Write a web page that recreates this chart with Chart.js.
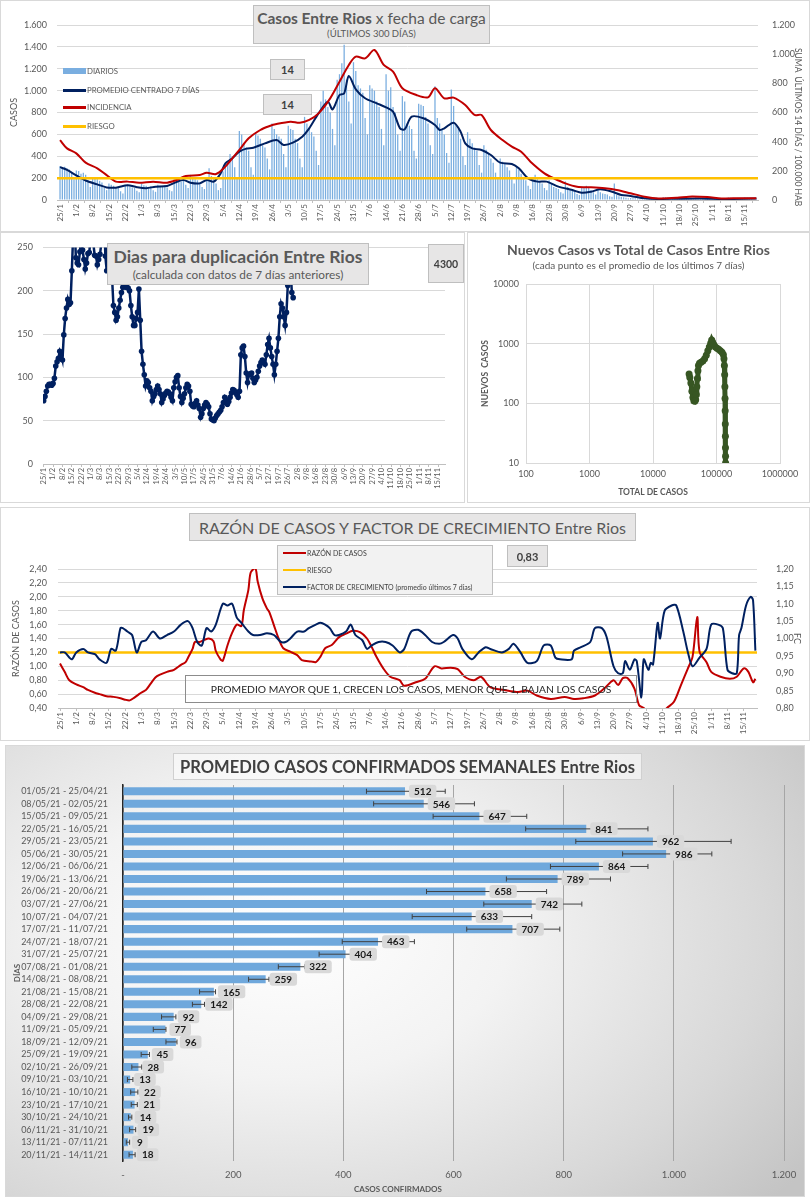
<!DOCTYPE html>
<html lang="es">
<head>
<meta charset="UTF-8">
<title>Casos Entre Rios</title>
<script src="https://cdn.jsdelivr.net/npm/chart.js"></script>
<style>
  body { margin: 0; background: #fff; font-family: Lato, sans-serif; }
  .panel { position: absolute; outline: 1px solid #d9d9d9; outline-offset: -1px; background: #fff; }
  .panel canvas { position: absolute; left: 0; top: 0; }
  .caja { position: absolute; box-sizing: border-box; background: #e7e6e6; border: 1px solid #bfbfbf; white-space: nowrap;
          color: #595959; text-align: center; display: flex; flex-direction: column; justify-content: center; }
  .lg { position: absolute; font-size: 7.8px; color: #595959; display: flex; align-items: center; white-space: nowrap; }
  .lg i { display: inline-block; width: 23px; margin-right: 1px; }
  .txt { position: absolute; color: #595959; white-space: nowrap; }
</style>
</head>
<body>

<div class="panel" style="left:0;top:0;width:810px;height:232px"><canvas id="c1" width="810" height="232"></canvas></div>
<div class="panel" style="left:0;top:232px;width:465px;height:271px"><canvas id="c2" width="465" height="271"></canvas></div>
<div class="panel" style="left:467px;top:232px;width:343px;height:271px"><canvas id="c3" width="343" height="271"></canvas></div>
<div class="panel" style="left:0;top:507px;width:810px;height:234px"><canvas id="c4" width="810" height="234"></canvas></div>
<div class="panel" style="left:5px;top:745px;width:800px;height:452px;background:radial-gradient(ellipse 80% 90% at 35% 42%, #ffffff 0%, #f3f3f3 35%, #d8d8d8 75%, #c4c4c4 100%)"><canvas id="c5" width="800" height="452"></canvas></div>

<!-- casos diarios -->
<div class="caja" style="left:253px;top:5px;width:237px;height:39px">
  <div style="font-size:15.5px;line-height:18px"><b>Casos Entre Rios</b> x fecha de carga</div>
  <div style="font-size:9.5px;line-height:13px">(ÚLTIMOS 300 DÍAS)</div>
</div>
<div class="caja" style="left:270px;top:59px;width:35px;height:21px;font-size:11px;font-weight:bold;color:#404040">14</div>
<div class="caja" style="left:263px;top:94px;width:49px;height:21px;font-size:11px;font-weight:bold;color:#404040">14</div>
<div class="lg" style="left:63px;top:66px;height:10px"><i style="height:6px;background:#7aaee0"></i>DIARIOS</div>
<div class="lg" style="left:63px;top:85px;height:10px"><i style="height:3px;background:#002060"></i>PROMEDIO CENTRADO 7 DÍAS</div>
<div class="lg" style="left:63px;top:102px;height:10px"><i style="height:3px;background:#c00000"></i>INCIDENCIA</div>
<div class="lg" style="left:63px;top:121px;height:10px"><i style="height:3px;background:#ffc000"></i>RIESGO</div>
<div class="txt" style="left:793px;top:48px;font-size:8.5px;line-height:10px;writing-mode:vertical-rl">SUMA&nbsp; ÚLTIMOS 14 DÍAS / 100.000 HAB</div>

<!-- duplicacion -->
<div class="caja" style="left:107px;top:243px;width:262px;height:42px">
  <div style="font-size:17.5px;font-weight:bold;line-height:20px">Dias para duplicación Entre Rios</div>
  <div style="font-size:11.8px;line-height:15px">(calculada con datos de 7 días anteriores)</div>
</div>
<div class="caja" style="left:428px;top:244px;width:36px;height:39px;font-size:10.5px;font-weight:bold;color:#404040">4300</div>

<!-- nuevos vs total -->
<div class="txt" style="left:467px;width:343px;top:241px;text-align:center;font-size:14px;font-weight:bold">Nuevos Casos vs Total de Casos Entre Rios</div>
<div class="txt" style="left:467px;width:343px;top:259px;text-align:center;font-size:10px">(cada punto es el promedio de los últimos 7 días)</div>

<!-- razon de casos -->
<div class="caja" style="left:189px;top:513px;width:447px;height:28px;font-size:16px">RAZÓN DE CASOS Y FACTOR DE CRECIMIENTO Entre Rios</div>
<div class="caja" style="left:277px;top:545px;width:216px;height:50px;background:#f2f2f2"></div>
<div class="lg" style="left:283px;top:548px;height:10px;font-size:7px;color:#404040"><i style="height:2.5px;background:#c00000"></i>RAZÓN DE CASOS</div>
<div class="lg" style="left:283px;top:565px;height:10px;font-size:7px;color:#404040"><i style="height:2.5px;background:#ffc000"></i>RIESGO</div>
<div class="lg" style="left:283px;top:582px;height:10px;font-size:7px;color:#404040"><i style="height:2.5px;background:#002060"></i>FACTOR DE CRECIMIENTO (promedio últimos 7 días)</div>
<div class="caja" style="left:507px;top:545px;width:41px;height:22px;font-size:11px;font-weight:bold;color:#404040">0,83</div>
<div class="caja" style="left:185px;top:675px;width:452px;height:28px;background:transparent;border-color:#8c8c8c;font-size:10.3px;color:#262626">PROMEDIO MAYOR QUE 1, CRECEN LOS CASOS, MENOR QUE 1, BAJAN LOS CASOS</div>

<!-- promedio semanal -->
<div class="caja" style="left:173px;top:753px;width:469px;height:27px;background:rgba(255,255,255,0.55);border-color:#d0d0d0;font-size:16.5px;font-weight:bold;color:#404040">PROMEDIO CASOS CONFIRMADOS SEMANALES Entre Rios</div>
<div class="txt" style="left:298px;width:200px;top:1184px;text-align:center;font-size:8px;font-weight:bold">CASOS CONFIRMADOS</div>

<script>
// etiquetas semanales del eje de fechas (día 0 = 25/1)
const fechas = ['25/1','1/2','8/2','15/2','22/2','1/3','8/3','15/3','22/3','29/3','5/4','12/4','19/4','26/4',
  '3/5','10/5','17/5','24/5','31/5','7/6','14/6','21/6','28/6','5/7','12/7','19/7','26/7','2/8','9/8','16/8',
  '23/8','30/8','6/9','13/9','20/9','27/9','4/10','11/10','18/10','25/10','1/11','8/11','15/11'];

// casos diarios, una fila por semana
const diarios = [
  310,300,305,290,280,250,190, 270,265,240,250,230,180,120, 210,200,190,175,160,110,90,
  150,140,130,120,110,80,60, 130,140,125,115,110,85,70, 150,135,130,120,125,90,75,
  140,130,125,135,115,90,80, 190,200,185,170,175,140,110, 230,200,190,180,160,120,100,
  210,290,220,200,150,90,110, 260,300,340,420,400,300,200, 630,600,520,480,450,300,230,
  620,590,560,500,480,380,280, 700,650,600,580,560,420,300, 680,650,640,560,520,380,300,
  760,700,660,620,580,450,320, 900,1000,920,850,800,650,500, 1100,1150,1250,1420,1100,900,700,
  1260,1180,1050,1020,980,750,600, 1050,1020,1000,900,850,650,500, 1150,1000,1030,850,800,600,450,
  950,900,700,680,650,450,380, 880,870,860,760,700,500,420, 1040,750,700,650,600,430,340,
  1010,860,690,650,560,400,320, 620,560,520,480,450,320,250, 500,460,420,380,340,250,200,
  380,350,330,300,270,190,150, 300,280,240,200,180,130,100, 200,230,190,170,150,110,90,
  180,150,120,110,100,70,60, 170,120,95,85,80,55,45, 110,120,130,110,90,70,50,
  100,70,60,55,50,35,30, 150,45,35,30,25,20,15, 18,16,15,14,12,10,8,
  25,22,20,22,20,15,12, 25,24,22,20,20,15,12, 18,16,15,14,13,10,8,
  25,22,20,20,18,14,12, 12,12,10,10,9,7,6, 22,20,20,18,18,13,10,
  24,20,18,16,15,12];

// promedio centrado 7 días (eje izquierdo)
const promDia = [0,3,7,11,16,20,24,29,33,37,41,46,50,53,56,60,63,66,69,71,74,77,80,83,88,93,96,100,104,107,
  111,115,117,120,122,124,127,131,136,140,143,146,148,151,156,161,163,165,169,172,174,177,181,185,189,194,197,
  201,205,209,214,220,224,228,232,237,241,245,251,257,265,275,285,299];
const promVal = [300,275,225,178,143,115,113,135,117,108,122,128,165,183,158,152,183,168,244,335,381,442,470,478,
  518,549,503,524,579,655,792,899,829,960,975,1134,1012,930,884,847,808,655,646,762,747,686,640,655,707,625,
  518,472,457,411,341,329,290,198,168,168,122,91,67,76,98,76,46,37,15,9,12,14,10,14];

// incidencia 14 días / 100.000 hab (eje derecho)
const incDia = [0,3,7,11,16,20,24,29,34,40,46,50,54,60,63,67,71,74,77,81,86,90,93,99,103,107,111,116,120,124,
  127,131,135,139,143,147,153,158,161,165,169,174,178,181,185,190,194,198,202,208,212,217,222,228,234,239,245,
  251,257,265,270,278,284,292,299];
const incVal = [411,354,320,256,217,171,126,126,119,126,119,137,165,171,187,178,229,286,343,423,480,507,521,537,
  530,549,594,697,811,926,983,971,1029,926,880,766,720,704,766,697,702,651,583,583,480,411,366,331,263,183,
  149,114,91,87,80,69,46,23,11,15,23,20,11,12,12];
const riesgoIncidencia = 150;

// días para duplicación, un valor por día desde el 25/1
const dupVal = [
  73,78,84,90,92,92,91,93,99,113, 118,122,130,126,120,149,168,180,190,184,
  186,223,265,280,238,232,230,245,262,247, 236,225,232,243,244,262,275,255,241,240,
  230,236,242,255,270,290,240,223,260,280, 260,215,183,175,166,170,180,189,198,204,
  205,204,204,203,200,183,170,160,160,168, 175,202,166,130,115,103,90,96,94,88,
  84,73,78,81,86,90,86,81,71,75, 79,82,84,83,81,77,73,88,95,100,
  102,88,78,71,76,81,88,92,90,84, 69,67,66,70,73,68,64,54,58,64,
  68,71,69,66,58,52,51,50,53,56, 58,60,62,66,71,77,74,69,72,77,
  82,86,85,83,80,77,84,126,134,136, 124,105,94,103,104,105,99,94,97,100,
  107,113,117,120,118,115,126,138,145,134, 124,115,103,115,130,145,170,185,180,170,
  160,175,206,260,230,198,192];

// nuevos casos vs total
const totalCasos = [37000,38000,39500,41000,42500,44000,45500,47000,48000,49000,50000,51000,52000,54000,57000,
  61000,65000,69000,73000,77000,81000,84000,87000,91000,96000,102000,108000,115000,122000,128000,131000,133000,
  134500,135500,136300,137000,137600,138100,138500,138900,139200];
const nuevosCasos = [310,270,220,160,125,110,108,115,140,190,260,350,430,470,490,510,560,640,760,880,1020,1150,
  1060,960,880,840,810,760,720,660,560,430,300,190,120,75,45,28,18,13,10];
const ejeTotal = [100,1000,10000,100000,1000000];
const ejeNuevos = [10,100,1000,10000];

// razón de casos (eje izquierdo)
const razDia = [0,2,4,7,10,12,15,17,20,23,26,28,30,32,34,36,37,39,41,43,46,49,52,54,55,57,58,60,62,64,66,67,69,70,
  72,74,76,78,79,81,82,84,85,87,89,90,92,94,96,99,102,104,108,110,112,114,117,120,123,126,129,132,134,136,139,142,
  146,148,153,157,161,164,168,171,174,178,181,185,191,197,201,205,211,217,221,225,230,234,238,240,242,244,247,249,
  251,253,256,259,261,264,267,270,272,274,275,278,280,284,288,291,294,296,298,299];
const razVal = [1.04,0.92,0.80,0.74,0.70,0.66,0.62,0.60,0.57,0.56,0.54,0.52,0.51,0.55,0.60,0.64,0.66,0.75,0.84,0.88,
  0.92,0.95,1.02,1.06,1.12,1.25,1.35,1.35,1.38,1.40,1.36,1.22,1.10,1.08,1.30,1.48,1.60,1.58,1.80,2.10,2.35,2.41,2.22,
  1.98,1.83,1.78,1.59,1.40,1.26,1.21,1.16,1.09,1.07,1.06,1.14,1.26,1.31,1.42,1.47,1.51,1.49,1.40,1.28,1.14,0.97,0.85,
  0.80,0.72,0.77,0.82,1.00,0.97,0.98,0.96,0.85,0.80,0.85,0.70,0.66,0.63,0.65,0.58,0.53,0.56,0.53,0.54,0.58,0.68,0.80,
  0.73,0.83,0.83,0.68,0.44,0.40,0.32,0.30,0.34,0.40,0.49,0.73,0.97,1.14,1.71,1.21,1.06,0.92,0.85,0.82,0.85,0.97,0.92,
  0.77,0.82];
const riesgoRazon = 1.2;

// factor de crecimiento (eje derecho)
const fcDia = [0,2,5,7,10,12,15,17,20,22,24,26,27,29,31,33,35,37,40,43,46,49,52,55,57,59,61,63,65,67,70,72,74,76,78,
  81,83,86,89,92,95,97,99,102,105,107,110,112,114,116,118,120,123,125,127,130,132,134,137,140,143,146,148,151,154,
  157,160,163,165,169,171,173,177,180,183,185,190,193,195,198,201,205,208,211,213,215,220,221,224,228,230,233,235,
  238,240,242,243,245,247,248,250,251,253,254,255,257,258,260,263,265,268,270,272,275,278,280,283,285,287,289,291,
  292,293,295,297,298,299];
const fcVal = [0.96,0.96,0.94,0.96,0.97,0.96,0.955,0.94,0.93,0.97,0.965,1.03,1.03,1.02,1.01,0.96,0.99,0.995,1.02,1.00,
  1.01,1.02,1.04,1.05,1.03,0.99,0.98,1.03,1.02,1.04,1.10,1.095,1.10,1.06,1.045,1.02,1.01,1.01,1.015,1.01,0.99,0.99,
  1.00,1.02,1.02,1.03,1.04,1.045,1.04,1.03,1.01,1.01,1.02,1.04,1.01,0.995,0.97,0.98,0.99,0.99,0.98,0.96,0.97,1.02,
  1.025,1.01,0.99,0.985,0.99,1.01,1.00,0.97,0.94,0.96,0.975,0.97,0.96,0.97,0.985,0.96,0.93,0.935,0.98,0.98,0.945,
  0.94,0.94,0.965,0.975,0.99,1.03,1.03,1.005,0.92,0.90,0.90,0.935,0.91,0.94,0.935,0.83,0.94,0.91,0.93,0.925,1.045,
  1.00,1.08,1.095,1.095,1.02,0.96,0.92,0.945,0.97,1.04,1.04,1.03,0.91,0.90,0.90,1.01,1.03,1.095,1.12,1.11,0.965];

// promedio semanal con su rango
const semanas = ['01/05/21 - 25/04/21','08/05/21 - 02/05/21','15/05/21 - 09/05/21','22/05/21 - 16/05/21',
  '29/05/21 - 23/05/21','05/06/21 - 30/05/21','12/06/21 - 06/06/21','19/06/21 - 13/06/21','26/06/21 - 20/06/21',
  '03/07/21 - 27/06/21','10/07/21 - 04/07/21','17/07/21 - 11/07/21','24/07/21 - 18/07/21','31/07/21 - 25/07/21',
  '07/08/21 - 01/08/21','14/08/21 - 08/08/21','21/08/21 - 15/08/21','28/08/21 - 22/08/21','04/09/21 - 29/08/21',
  '11/09/21 - 05/09/21','18/09/21 - 12/09/21','25/09/21 - 19/09/21','02/10/21 - 26/09/21','09/10/21 - 03/10/21',
  '16/10/21 - 10/10/21','23/10/21 - 17/10/21','30/10/21 - 24/10/21','06/11/21 - 31/10/21','13/11/21 - 07/11/21',
  '20/11/21 - 14/11/21'];
const promedios = [512,546,647,841,962,986,864,789,658,742,633,707,463,404,322,259,165,142,92,77,96,45,28,13,22,21,14,19,9,18];
const errMin = [442,455,563,731,822,907,776,696,551,655,525,624,398,356,282,228,139,126,70,55,78,33,16,8,14,15,10,12,6,11];
const errMax = [585,638,733,953,1104,1069,953,885,769,833,742,793,529,415,330,265,168,148,96,78,98,48,34,18,27,26,16,23,12,22];

Chart.defaults.font.family = 'Lato, sans-serif';
Chart.defaults.color = '#595959';
Chart.defaults.animation = false;
Chart.defaults.responsive = false;
Chart.defaults.plugins.legend.display = false;
Chart.defaults.plugins.tooltip.enabled = false;

const miles = v => String(v).replace(/\B(?=(\d{3})+(?!\d))/g, '.');
const coma = v => v.toFixed(2).replace('.', ',');
const ancho = w => s => { s.width = w; };
const alto = h => s => { s.height = h; };
const xy = (xs, ys) => xs.map((x, i) => ({ x, y: ys[i] }));
const semanas7 = s => { s.ticks = fechas.map((f, i) => ({ value: i * 7 })); };
const etiquetaSemana = v => fechas[Math.round(v / 7)];
const ejeFechas = (min, max, h, size) => ({
  type: 'linear', min, max, offset: false, afterBuildTicks: semanas7, afterFit: alto(h),
  grid: { drawOnChartArea: false, color: '#bfbfbf', tickLength: 3 }, border: { color: '#bfbfbf' },
  ticks: { autoSkip: false, minRotation: 90, maxRotation: 90, padding: 1, font: { size }, callback: etiquetaSemana }
});

// casos diarios
new Chart('c1', {
  type: 'bar',
  data: { datasets: [
    { type: 'line', data: [{ x: -1.3, y: riesgoIncidencia }, { x: 299.7, y: riesgoIncidencia }], yAxisID: 'y2',
      borderColor: '#ffc000', borderWidth: 2.5, pointRadius: 0, order: 1 },
    { type: 'line', data: xy(incDia, incVal), yAxisID: 'y2', borderColor: '#c00000', borderWidth: 2,
      pointRadius: 0, tension: 0.3, order: 2 },
    { type: 'line', data: xy(promDia, promVal), yAxisID: 'y', borderColor: '#002060', borderWidth: 2,
      pointRadius: 0, tension: 0.3, order: 3 },
    { type: 'bar', data: diarios.map((v, i) => ({ x: i, y: v })), yAxisID: 'y', backgroundColor: '#7aaee0',
      barPercentage: 0.55, categoryPercentage: 1, order: 4 }
  ] },
  options: {
    layout: { padding: { top: 25 } },
    scales: {
      x: ejeFechas(-1.3, 299.7, 32, 8),
      y: { position: 'left', min: 0, max: 1600, afterFit: ancho(57), border: { display: false },
           grid: { color: '#d9d9d9', drawTicks: false }, ticks: { stepSize: 200, padding: 10, font: { size: 9 }, callback: miles },
           title: { display: true, text: 'CASOS', font: { size: 9 }, padding: { top: 9, bottom: 0 } } },
      y2: { position: 'right', min: 0, max: 1200, afterFit: ancho(52), border: { display: false }, grid: { display: false },
            ticks: { stepSize: 200, padding: 6, font: { size: 9 }, callback: miles } }
    }
  }
});

// días para duplicación
new Chart('c2', {
  type: 'line',
  data: { datasets: [{ data: dupVal.map((v, i) => ({ x: i, y: v })), borderColor: '#002060', backgroundColor: '#002060',
    borderWidth: 2.5, pointRadius: 2.8, pointBorderWidth: 0 }] },
  options: {
    layout: { padding: { top: 12, right: 20 } },
    scales: {
      x: ejeFechas(-0.5, 299.2, 39, 7.5),
      y: { min: 0, max: 250, afterFit: ancho(43), border: { display: false }, grid: { color: '#d9d9d9', drawTicks: false },
           ticks: { stepSize: 50, padding: 10, font: { size: 9 } } }
    }
  }
});

// nuevos casos vs total de casos
new Chart('c3', {
  type: 'scatter',
  data: { datasets: [{ data: xy(totalCasos, nuevosCasos), showLine: true, borderColor: '#375623', backgroundColor: '#375623',
    borderWidth: 5, pointRadius: 3.5, pointBorderWidth: 0 }] },
  options: {
    layout: { padding: { top: 52, right: 30 } },
    scales: {
      x: { type: 'logarithmic', min: 100, max: 1000000, afterFit: alto(40),
           afterBuildTicks: s => { s.ticks = ejeTotal.map(value => ({ value })); },
           grid: { color: '#d9d9d9', drawTicks: false }, border: { color: '#d9d9d9' },
           ticks: { padding: 6, font: { size: 9 }, callback: v => String(v) },
           title: { display: true, text: 'TOTAL DE CASOS', font: { size: 8.5, weight: 'bold' }, padding: { top: 0, bottom: 6 } } },
      y: { type: 'logarithmic', min: 10, max: 10000, afterFit: ancho(59),
           afterBuildTicks: s => { s.ticks = ejeNuevos.map(value => ({ value })); },
           grid: { color: '#d9d9d9', drawTicks: false }, border: { color: '#d9d9d9' },
           ticks: { padding: 7, font: { size: 9 }, callback: v => String(v) },
           title: { display: true, text: 'NUEVOS  CASOS', font: { size: 8.5, weight: 'bold' }, padding: { top: 13, bottom: 0 } } }
    }
  }
});

// razón de casos y factor de crecimiento
new Chart('c4', {
  type: 'line',
  data: { datasets: [
    { data: [{ x: -0.86, y: riesgoRazon }, { x: 299.7, y: riesgoRazon }], yAxisID: 'y', borderColor: '#ffc000',
      borderWidth: 2.5, pointRadius: 0, order: 3 },
    { data: xy(razDia, razVal), yAxisID: 'y', borderColor: '#c00000', borderWidth: 2, pointRadius: 0, tension: 0.3, order: 2 },
    { data: xy(fcDia, fcVal), yAxisID: 'y2', borderColor: '#002060', borderWidth: 2, pointRadius: 0, tension: 0.3, order: 1 }
  ] },
  options: {
    layout: { padding: { top: 62 } },
    scales: {
      x: ejeFechas(-0.86, 299.7, 33, 8),
      y: { position: 'left', min: 0.4, max: 2.4, afterFit: ancho(58), border: { display: false },
           grid: { color: '#d9d9d9', drawTicks: false }, ticks: { stepSize: 0.2, padding: 11, font: { size: 9 }, callback: coma },
           title: { display: true, text: 'RAZÓN DE CASOS', font: { size: 9 }, padding: { top: 11, bottom: 0 } } },
      y2: { position: 'right', min: 0.8, max: 1.2, afterFit: ancho(53), border: { display: false }, grid: { display: false },
            ticks: { stepSize: 0.05, padding: 11, font: { size: 9 }, callback: coma },
            title: { display: true, text: 'FC', font: { size: 9 }, padding: { top: 8, bottom: 0 } } }
    }
  }
});

// barras de error y etiquetas de valor
const extrasBarras = {
  id: 'extrasBarras',
  afterDatasetsDraw(chart) {
    const { ctx, scales: { x } } = chart;
    const barras = chart.getDatasetMeta(0).data;
    ctx.save();
    ctx.strokeStyle = '#404040';
    ctx.lineWidth = 1;
    barras.forEach((b, i) => {
      const x1 = x.getPixelForValue(errMin[i]), x2 = x.getPixelForValue(errMax[i]);
      ctx.beginPath();
      ctx.moveTo(x1, b.y); ctx.lineTo(x2, b.y);
      ctx.moveTo(x1, b.y - 2.5); ctx.lineTo(x1, b.y + 2.5);
      ctx.moveTo(x2, b.y - 2.5); ctx.lineTo(x2, b.y + 2.5);
      ctx.stroke();
    });
    ctx.font = 'bold 10px Lato, sans-serif';
    ctx.textAlign = 'center';
    ctx.textBaseline = 'middle';
    barras.forEach((b, i) => {
      const t = String(promedios[i]);
      const w = ctx.measureText(t).width + 10;
      const bx = b.x + 4;
      ctx.fillStyle = '#d9d9d9';
      ctx.beginPath();
      ctx.roundRect(bx, b.y - 6.5, w, 13, 3);
      ctx.fill();
      ctx.fillStyle = '#1a1a1a';
      ctx.fillText(t, bx + w / 2, b.y + 0.5);
    });
    ctx.restore();
  }
};

// promedio semanal
new Chart('c5', {
  type: 'bar',
  data: { labels: semanas, datasets: [{ data: promedios, backgroundColor: '#6fa8dc', barPercentage: 0.64, categoryPercentage: 1 }] },
  options: {
    indexAxis: 'y',
    layout: { padding: { top: 40, right: 21 } },
    scales: {
      x: { min: 0, max: 1200, afterFit: alto(36), border: { display: false }, grid: { color: '#a6a6a6', drawTicks: false },
           ticks: { stepSize: 200, padding: 8, font: { size: 9.5 }, callback: v => v === 0 ? '-' : miles(v) } },
      y: { afterFit: ancho(118), grid: { display: false }, border: { color: '#262626', width: 1.5 },
           ticks: { padding: 7, font: { size: 9 }, autoSkip: false },
           title: { display: true, text: 'DÍAS', font: { size: 8, weight: 'bold' }, padding: { top: 8, bottom: 0 } } }
    }
  },
  plugins: [extrasBarras]
});
</script>
</body>
</html>
